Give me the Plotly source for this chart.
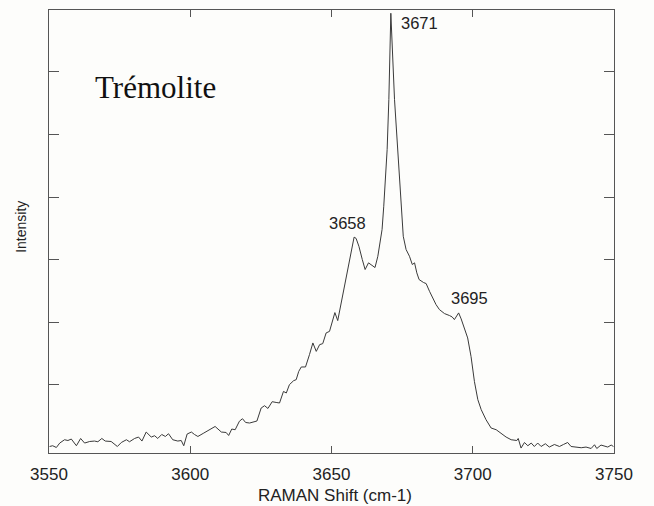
import plotly.graph_objects as go

# Raman spectrum in the OH-stretching region (cm-1 vs. arbitrary counts)
shift_cm1 = [
    3550.2, 3551.3, 3552.6, 3553.8, 3555.5, 3556.7, 3557.9, 3559.7, 3561.2, 3562.6,
    3564.4, 3566.1, 3567.3, 3568.7, 3569.9, 3572.0, 3574.2, 3575.6, 3577.4, 3578.5,
    3580.3, 3581.7, 3582.9, 3584.4, 3586.2, 3587.4, 3588.5, 3589.9, 3591.2, 3592.3,
    3593.8, 3595.6, 3596.8, 3597.7, 3598.9, 3600.4, 3601.5, 3602.7, 3604.8, 3606.2,
    3607.4, 3608.8, 3611.0, 3612.7, 3613.6, 3614.7, 3615.9, 3617.4, 3618.5, 3619.6,
    3621.0, 3622.4, 3623.6, 3625.1, 3626.3, 3627.5, 3629.0, 3630.4, 3631.6, 3633.0,
    3634.0, 3635.1, 3636.6, 3637.5, 3638.4, 3639.3, 3640.8, 3642.2, 3643.4, 3644.6,
    3645.8, 3646.9, 3648.1, 3649.3, 3649.9, 3651.2, 3652.2, 3653.4, 3654.6, 3655.8,
    3657.0, 3658.0, 3658.7, 3659.7, 3660.9, 3661.9, 3663.1, 3664.0, 3665.4, 3666.4,
    3667.2, 3667.9, 3668.5, 3669.1, 3669.7, 3670.3, 3671.0, 3672.3, 3673.4, 3674.0,
    3674.7, 3675.4, 3676.4, 3677.6, 3678.6, 3679.4, 3680.2, 3681.0, 3682.6, 3683.5,
    3684.7, 3685.8, 3687.0, 3688.2, 3690.0, 3691.8, 3692.7, 3693.5, 3694.1, 3695.0,
    3695.9, 3697.1, 3698.2, 3699.4, 3700.6, 3701.8, 3703.0, 3704.7, 3706.5, 3708.3,
    3710.1, 3711.8, 3713.6, 3715.6, 3716.1, 3717.1, 3718.3, 3719.5, 3720.7, 3721.8,
    3723.0, 3724.2, 3725.7, 3727.1, 3728.9, 3730.7, 3732.1, 3733.6, 3734.8, 3736.6,
    3738.4, 3740.1, 3741.9, 3743.1, 3743.9, 3745.4, 3746.6, 3747.8, 3749.0, 3749.8,
]

intensity = [
    14, 26, -2, 69, 122, 110, 133, 26, 142, 69,
    94, 101, 90, 142, 101, 94, 14, 78, 122, 90,
    142, 165, 101, 245, 165, 186, 142, 206, 174, 218,
    122, 101, 110, 26, 213, 245, 206, 174, 229, 270,
    293, 334, 245, 238, 190, 293, 282, 418, 458, 398,
    389, 410, 421, 629, 666, 622, 730, 718, 709, 894,
    869, 1002, 1066, 1082, 1214, 1285, 1285, 1482, 1669, 1534,
    1642, 1658, 1829, 1854, 1962, 2154, 2026, 2309, 2549, 2842,
    3162, 3360, 3340, 3214, 3002, 2842, 2949, 2922, 2874, 3054,
    3269, 3482, 3854, 4229, 4762, 5562, 6938, 5562, 4762, 4334,
    3802, 3374, 3162, 3054, 2922, 2949, 2789, 2682, 2634, 2618,
    2494, 2389, 2282, 2202, 2138, 2106, 2085, 2042, 2085, 2149,
    2053, 1882, 1749, 1450, 1050, 762, 602, 442, 309, 282,
    218, 165, 122, 110, 142, -11, 78, 26, 69, 14,
    69, 14, 58, 5, 46, 14, 46, 78, 14, 5,
    -6, 5, -18, 42, -18, 37, 26, 5, 37, 14,
]

# Labelled band positions and where each label sits relative to its peak (px)
peak_positions = [3658.0, 3671.0, 3695.0]
peak_label_offsets = [(-7, 14), (29, -10), (11, 15)]

x_ticks = [3550, 3600, 3650, 3700, 3750]
y_ticks = [1000, 2000, 3000, 4000, 5000, 6000]

bg = "#fdfdfb"
axis_col = "#555555"
sans = "Liberation Sans, Arial, sans-serif"

fig = go.Figure()
fig.add_trace(go.Scatter(
    x=shift_cm1, y=intensity, mode="lines",
    line=dict(color="#3a3a3a", width=1),
    hoverinfo="skip", showlegend=False,
))

annotations = []
for pos, (dx, dy) in zip(peak_positions, peak_label_offsets):
    idx = shift_cm1.index(pos)
    annotations.append(dict(
        x=pos, y=intensity[idx], xref="x", yref="y",
        text=f"{pos:.0f}", showarrow=False,
        xanchor="center", yanchor="middle", xshift=dx, yshift=dy,
        font=dict(family=sans, size=16.5, color="#222222"),
    ))

annotations += [
    dict(text="Trémolite", x=0.078, y=0.826, xref="paper", yref="paper",
         xanchor="left", yanchor="middle", showarrow=False,
         font=dict(family="Liberation Serif, Times New Roman, serif", size=31, color="#111111")),
    dict(text="Intensity", x=-0.05, y=0.51, xref="paper", yref="paper",
         xanchor="center", yanchor="middle", textangle=-90, showarrow=False,
         font=dict(family=sans, size=14, color="#222222")),
    dict(text="RAMAN Shift (cm-1)", x=0.507, y=-0.097, xref="paper", yref="paper",
         xanchor="center", yanchor="middle", showarrow=False, borderpad=0,
         font=dict(family=sans, size=17, color="#222222")),
]

fig.update_layout(
    width=654, height=506,
    margin=dict(l=49, r=40, t=10, b=53),
    paper_bgcolor=bg, plot_bgcolor=bg,
    annotations=annotations,
    xaxis=dict(
        range=[3550, 3750], tickvals=x_ticks, ticktext=[str(v) for v in x_ticks],
        ticks="inside", ticklen=7, tickcolor=axis_col, mirror="ticks",
        showline=True, linecolor=axis_col, linewidth=1,
        showgrid=False, zeroline=False, ticklabelstandoff=6,
        tickfont=dict(family=sans, size=17, color="#222222"),
    ),
    yaxis=dict(
        range=[-90, 6990], tickvals=y_ticks, showticklabels=False,
        ticks="inside", ticklen=10, tickcolor=axis_col, mirror="ticks",
        showline=True, linecolor=axis_col, linewidth=1,
        showgrid=False, zeroline=False,
    ),
)

fig.write_html("out.html")
